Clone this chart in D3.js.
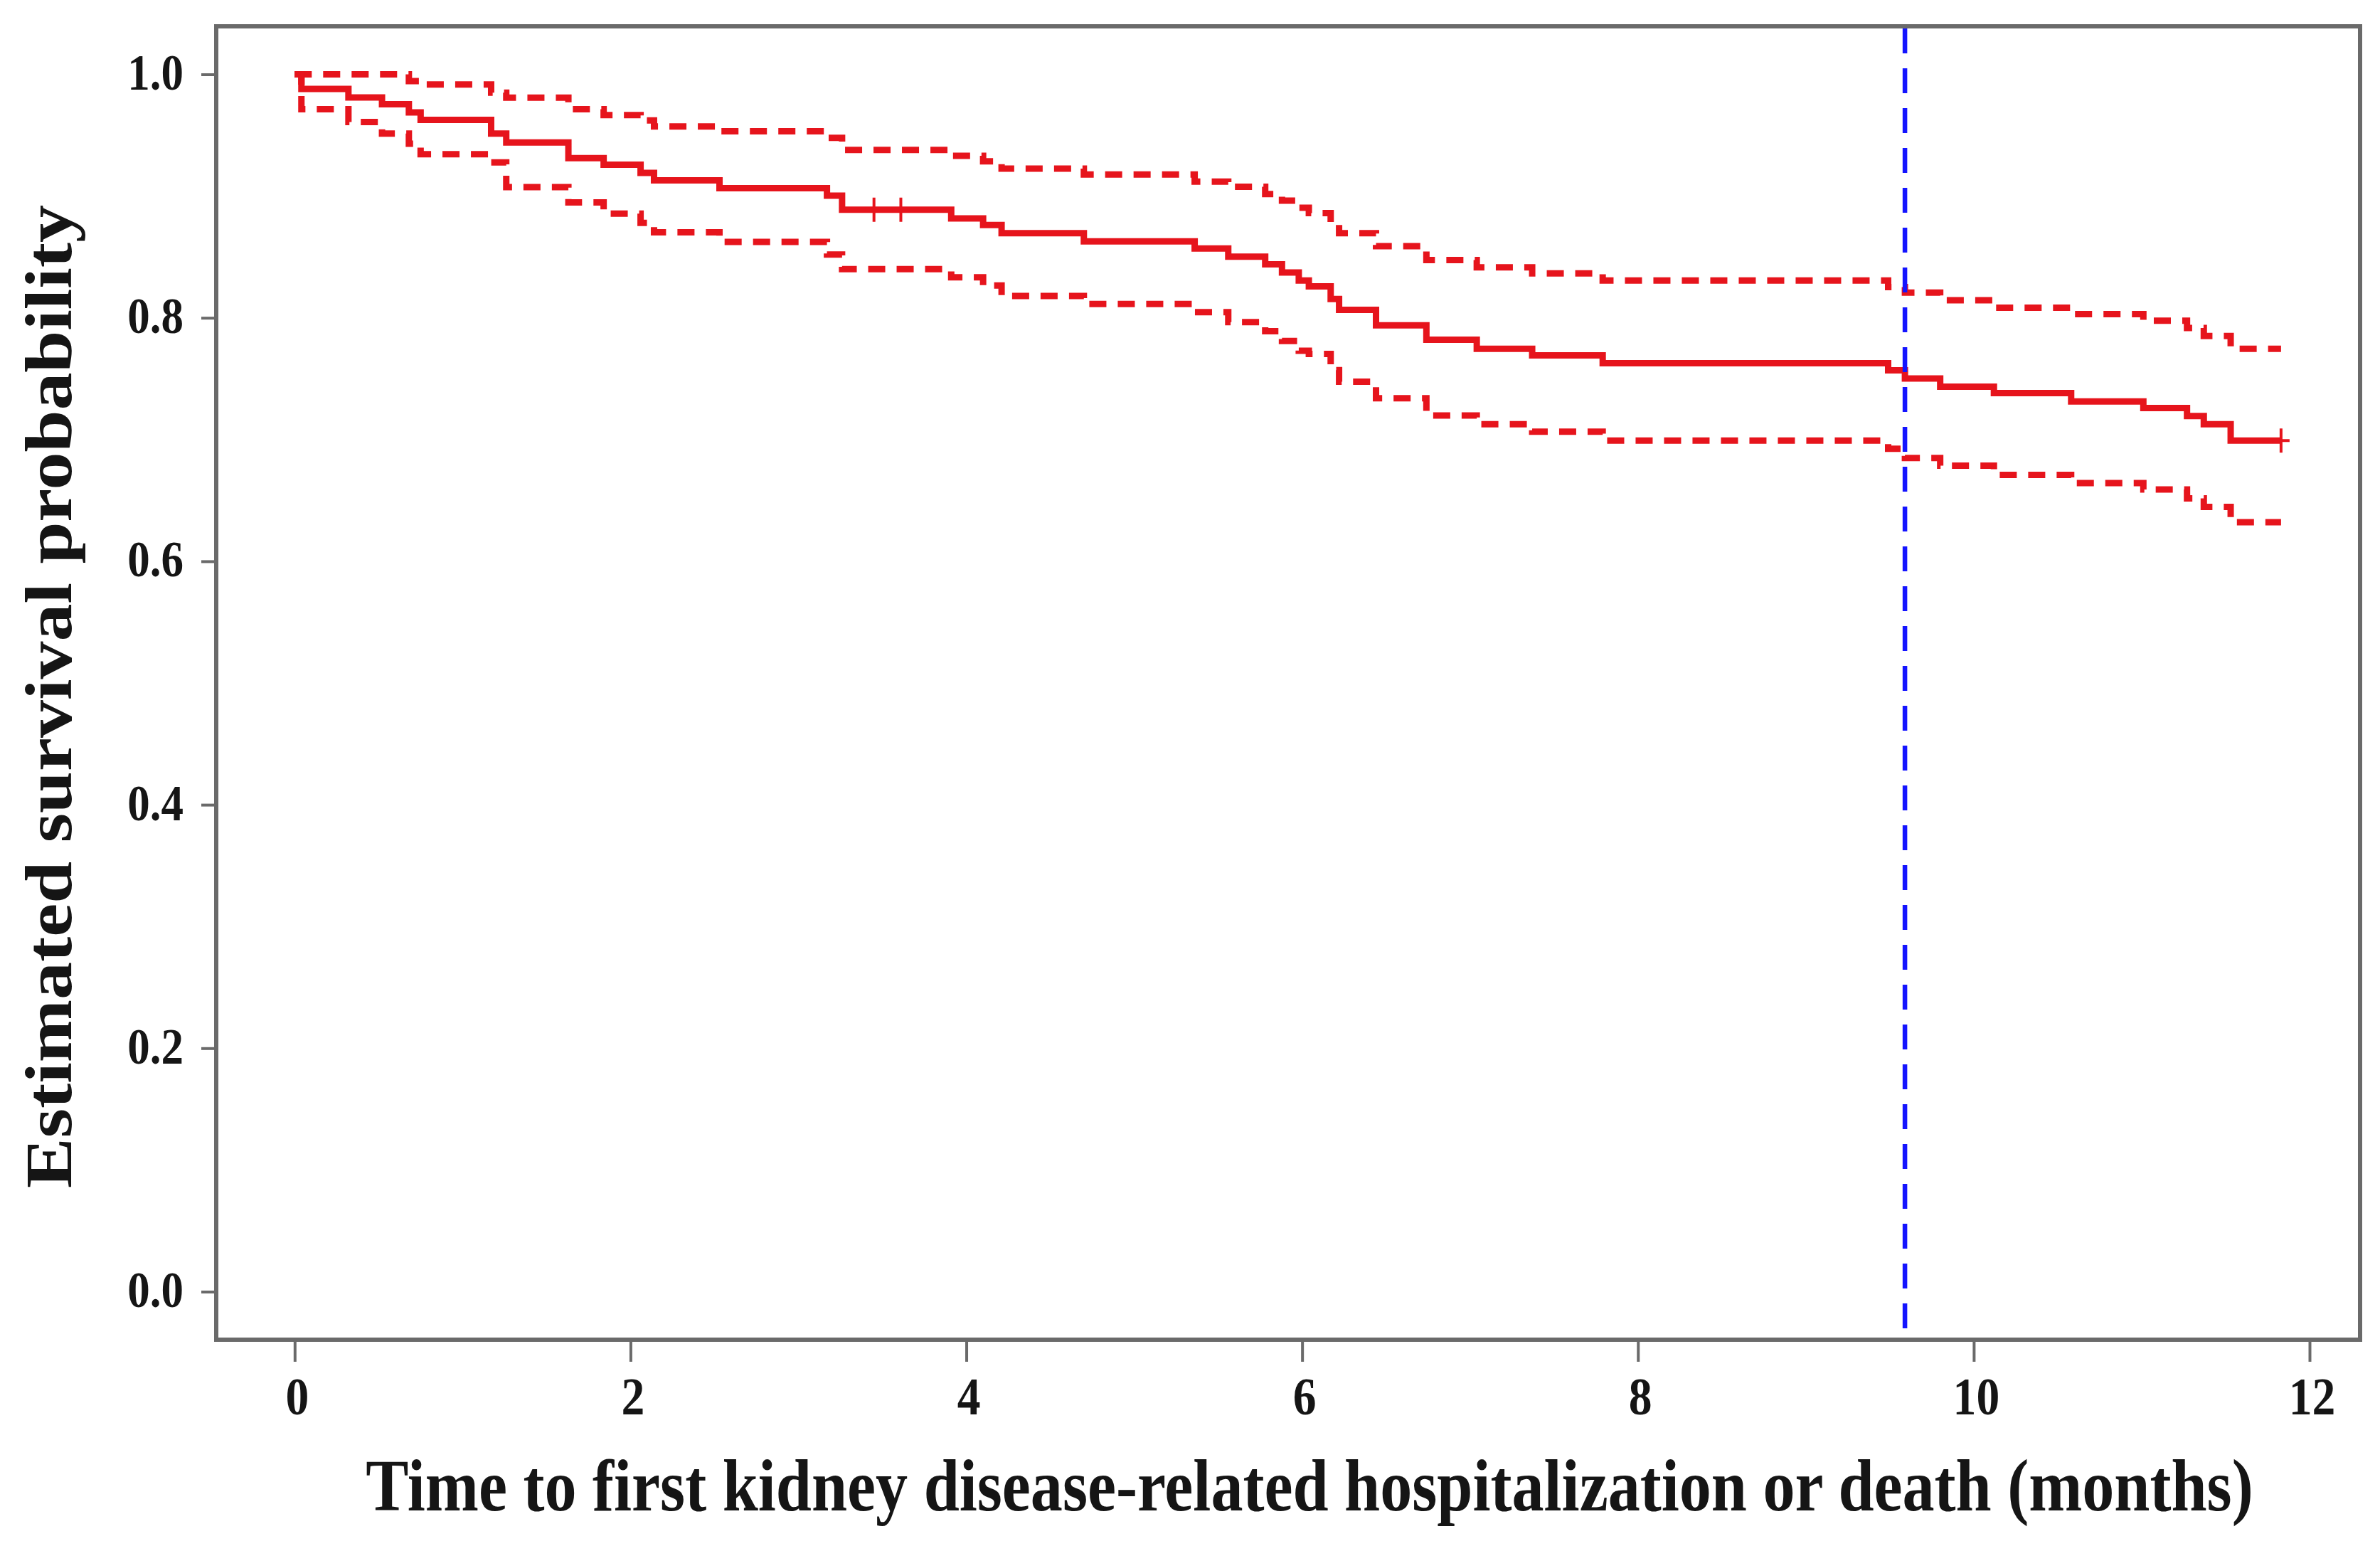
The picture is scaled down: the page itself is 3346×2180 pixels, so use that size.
<!DOCTYPE html>
<html>
<head>
<meta charset="utf-8">
<script src="https://cdn.jsdelivr.net/npm/d3@7"></script>
<style>
  body { margin: 0; background: #fff; }
  text { font-family: "Liberation Serif", "Times New Roman", serif; font-weight: bold; fill: #151515; }
</style>
</head>
<body>
<div id="chart"></div>
<script>
// Kaplan-Meier estimate (months, probability)
var eventTimes = [0, 0.04, 0.32, 0.52, 0.68, 0.75, 1.17, 1.26, 1.63, 1.84, 2.06, 2.14, 2.53,
                  3.17, 3.26, 3.91, 4.10, 4.21, 4.70, 5.36, 5.56, 5.78, 5.88, 5.98, 6.04,
                  6.17, 6.22, 6.44, 6.74, 7.04, 7.37, 7.79, 9.49, 9.59, 9.80, 10.12, 10.58,
                  11.01, 11.27, 11.37, 11.53];
var survival = [1.0, 0.988, 0.981, 0.9754, 0.9688, 0.9626, 0.9514, 0.944, 0.9312, 0.9258, 0.919, 0.9129, 0.9065,
                0.9003, 0.8888, 0.8816, 0.8762, 0.8695, 0.8628, 0.8569, 0.8502, 0.844, 0.8373, 0.8306, 0.8258,
                0.8155, 0.8065, 0.7939, 0.782, 0.7746, 0.7692, 0.7627, 0.7568, 0.7501, 0.7434, 0.7381, 0.7313,
                0.7259, 0.7193, 0.7126, 0.6991];
var upperCI = [1.0, 1.0, 1.0, 1.0, 0.9945, 0.9916, 0.985, 0.9808, 0.9714, 0.9666, 0.9621, 0.9572, 0.9532,
               0.9478, 0.9379, 0.9331, 0.9286, 0.9226, 0.9178, 0.9119, 0.9076, 0.9017, 0.8963, 0.8904, 0.8861,
               0.878, 0.8695, 0.8588, 0.8475, 0.8414, 0.8365, 0.8306, 0.8252, 0.8207, 0.8145, 0.8083, 0.803,
               0.7976, 0.7917, 0.785, 0.7746];
var lowerCI = [1.0, 0.9714, 0.9608, 0.9514, 0.943, 0.9344, 0.9277, 0.9074, 0.8948, 0.8856, 0.878, 0.8703, 0.8623,
               0.852, 0.840, 0.8333, 0.8266, 0.818, 0.8113, 0.8046, 0.7965, 0.789, 0.781, 0.7729, 0.7703,
               0.757, 0.7475, 0.734, 0.7198, 0.7126, 0.7064, 0.6991, 0.6924, 0.6849, 0.6785, 0.671, 0.6642,
               0.6589, 0.6516, 0.6447, 0.6321];
var lastTime = 11.83;
var censorTimes = [3.45, 3.61, 11.83];
var cutoffTime = 9.59;
var xTicks = [0, 2, 4, 6, 8, 10, 12];
var yTicks = [0, 0.2, 0.4, 0.6, 0.8, 1.0];
var xTitle = "Time to first kidney disease-related hospitalization or death (months)";
var yTitle = "Estimated survival probability";

var W = 3346, H = 2180;
var box = {left: 304, top: 37, right: 3318, bottom: 1883};
var red = "#e6141c", blue = "#1414ff", frameCol = "#6a6a6a";
var squish = 0.875; // the original picture is a bit narrow horizontally

var x = d3.scaleLinear().domain([0, 12]).range([414.3, 3247]);
var y = d3.scaleLinear().domain([0, 1]).range([1815.5, 104.5]);

var svg = d3.select("#chart").append("svg")
  .attr("width", W).attr("height", H)
  .style("display", "block");

svg.append("rect").attr("width", W).attr("height", H).attr("fill", "#fff");

// frame
svg.append("rect")
  .attr("x", box.left).attr("y", box.top)
  .attr("width", box.right - box.left).attr("height", box.bottom - box.top)
  .attr("fill", "none").attr("stroke", frameCol).attr("stroke-width", 6);

// axes
var xAxis = svg.append("g")
  .attr("transform", "translate(0," + (box.bottom + 1) + ")")
  .call(d3.axisBottom(x).tickValues(xTicks).tickSize(30).tickSizeOuter(0).tickFormat(d3.format("d")));
var yAxis = svg.append("g")
  .attr("transform", "translate(" + box.left + ",0)")
  .call(d3.axisLeft(y).tickValues(yTicks).tickSize(21).tickSizeOuter(0).tickFormat(d3.format(".1f")));

[xAxis, yAxis].forEach(function(a){
  a.select(".domain").remove();
  a.selectAll(".tick line").attr("stroke", frameCol).attr("stroke-width", 4);
  a.selectAll(".tick text").attr("font-size", 75).attr("fill", "#151515")
    .attr("x", 0).attr("y", 0).attr("dy", null);
});
xAxis.selectAll(".tick text").attr("text-anchor", "middle")
  .attr("transform", "translate(3,104) scale(" + squish + ",1)");
yAxis.selectAll(".tick text").attr("text-anchor", "end").attr("font-size", 72)
  .attr("transform", "translate(-46,21) scale(" + squish + ",1)");

// axis titles
svg.append("text")
  .attr("text-anchor", "middle").attr("font-size", 103)
  .attr("transform", "translate(1841,2123) scale(" + squish + ",1)")
  .text(xTitle);
svg.append("text")
  .attr("text-anchor", "middle").attr("font-size", 106)
  .attr("transform", "translate(100,979) rotate(-90) scale(1," + squish + ")")
  .text(yTitle);

// curves
function stepData(vals) {
  var pts = eventTimes.map(function(t, i){ return [t, vals[i]]; });
  pts.push([lastTime, vals[vals.length - 1]]);
  return pts;
}
var line = d3.line()
  .x(function(d){ return x(d[0]); })
  .y(function(d){ return y(d[1]); })
  .curve(d3.curveStepAfter);

var plot = svg.append("g");

[upperCI, lowerCI].forEach(function(ci){
  plot.append("path")
    .datum(stepData(ci))
    .attr("d", line)
    .attr("fill", "none")
    .attr("stroke", red)
    .attr("stroke-width", 9)
    .attr("stroke-dasharray", "24,16");
});

plot.append("path")
  .datum(stepData(survival))
  .attr("d", line)
  .attr("fill", "none")
  .attr("stroke", red)
  .attr("stroke-width", 9);

// censoring marks
var bis = d3.bisector(function(d){ return d; }).right;
censorTimes.forEach(function(t){
  var v = survival[bis(eventTimes, t) - 1];
  var cx = x(t), cy = y(v);
  plot.append("path")
    .attr("d", "M" + cx + "," + (cy - 17) + "V" + (cy + 17) + "M" + (cx - 12) + "," + cy + "H" + (cx + 12))
    .attr("stroke", red).attr("stroke-width", 4).attr("fill", "none");
});

// vertical reference line
plot.append("line")
  .attr("x1", x(cutoffTime)).attr("x2", x(cutoffTime))
  .attr("y1", box.top + 3).attr("y2", box.bottom - 3)
  .attr("stroke", blue).attr("stroke-width", 6.5)
  .attr("stroke-dasharray", "35,21");
</script>
</body>
</html>
